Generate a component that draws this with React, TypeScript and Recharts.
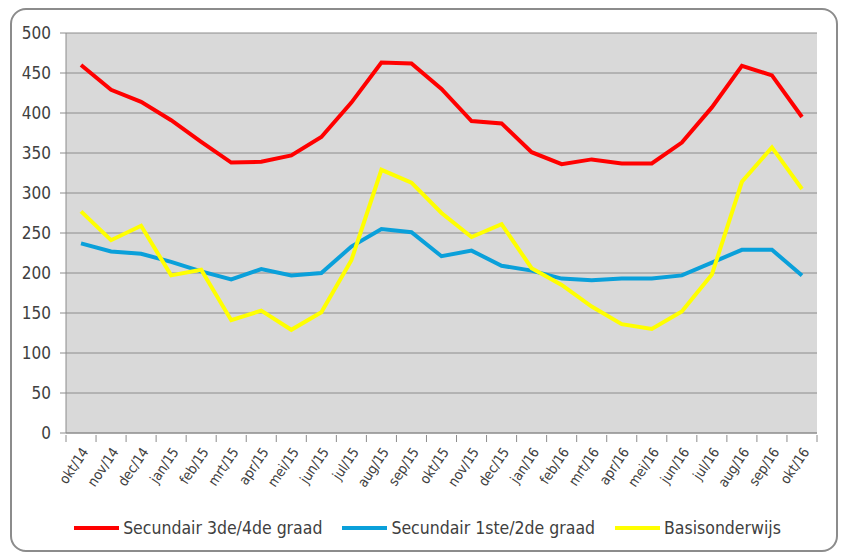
import React from 'react';
import { LineChart, Line, XAxis, YAxis, CartesianGrid, Legend } from 'recharts';

const months = ['okt/14', 'nov/14', 'dec/14', 'jan/15', 'feb/15', 'mrt/15', 'apr/15', 'mei/15', 'jun/15', 'jul/15', 'aug/15', 'sep/15', 'okt/15', 'nov/15', 'dec/15', 'jan/16', 'feb/16', 'mrt/16', 'apr/16', 'mei/16', 'jun/16', 'jul/16', 'aug/16', 'sep/16', 'okt/16'];
const secundair34 = [460, 429, 414, 391, 364, 338, 339, 347, 370, 413, 463, 462, 430, 390, 387, 351, 336, 342, 337, 337, 363, 407, 459, 447, 395];
const secundair12 = [237, 227, 224, 214, 202, 192, 205, 197, 200, 233, 255, 251, 221, 228, 209, 203, 193, 191, 193, 193, 197, 213, 229, 229, 197];
const basis = [277, 241, 259, 197, 204, 141, 153, 129, 151, 216, 329, 313, 275, 245, 261, 206, 185, 158, 136, 130, 152, 198, 314, 357, 305];
const yTicks = [0, 50, 100, 150, 200, 250, 300, 350, 400, 450, 500];

const seriesNames = ['Secundair 3de/4de graad', 'Secundair 1ste/2de graad', 'Basisonderwijs'];
const seriesColors = ['#ff0000', '#0aa0da', '#ffff00'];
const seriesKeys = ['s34', 's12', 'basis'];

const data = months.map((m, i) => ({ idx: i, month: m, s34: secundair34[i], s12: secundair12[i], basis: basis[i] }));
const xTicks: number[] = [];
for (let i = 0; i < months.length; i++) {
  xTicks.push(i - 0.5);
  xTicks.push(i);
}
xTicks.push(months.length - 0.5);

const FONT = '"DejaVu Sans Condensed", "Liberation Sans Narrow", Arial, sans-serif';
const TEXT = '#404040';
const GRID = '#8c8c8c';

const XTick = (props: any) => {
  const { x, y, payload } = props;
  const v = payload.value;
  if (Number.isInteger(v)) {
    return (
      <g transform={`translate(${x + 4},${y + 14})`}>
        <text transform="rotate(-56)" textAnchor="end" dy="0.35em" fontSize={14} fill={TEXT} fontFamily={FONT}>
          {months[v]}
        </text>
      </g>
    );
  }
  return <line x1={x} y1={y} x2={x} y2={y + 7} stroke={GRID} strokeWidth={1} />;
};

const LegendContent = () => (
  <div style={{ display: 'flex', justifyContent: 'center', alignItems: 'center', height: 20, paddingLeft: 38, fontFamily: FONT, fontSize: 17.5, color: TEXT }}>
    {seriesNames.map((n, i) => (
      <div key={n} style={{ display: 'flex', alignItems: 'center', marginRight: i < seriesNames.length - 1 ? 20 : 0 }}>
        <svg width={45} height={6} style={{ marginRight: 4 }}>
          <line x1={0} y1={3} x2={45} y2={3} stroke={seriesColors[i]} strokeWidth={4} />
        </svg>
        <span>{n}</span>
      </div>
    ))}
  </div>
);

export default function App() {
  return (
    <div style={{ position: 'absolute', left: 0, top: 0, width: 848, height: 552, background: '#ffffff', overflow: 'hidden' }}>
      <div style={{ position: 'absolute', left: 10, top: 8, width: 824, height: 540, border: '2px solid #8c8c8c', borderRadius: 16 }} />
      <div style={{ position: 'absolute', left: 0, top: 0 }}>
        <LineChart width={848} height={552} data={data} margin={{ top: 33, right: 31, bottom: 14, left: 0 }}>
          <CartesianGrid vertical={false} stroke={GRID} fill="#d9d9d9" strokeWidth={1} />
          <XAxis
            dataKey="idx"
            type="number"
            domain={[-0.5, months.length - 0.5]}
            ticks={xTicks}
            interval={0}
            tickSize={0}
            tickLine={false}
            tick={<XTick />}
            axisLine={{ stroke: GRID }}
            height={85}
          />
          <YAxis
            domain={[0, 500]}
            ticks={yTicks}
            interval={0}
            width={66}
            tickSize={6}
            tickMargin={9}
            tickLine={{ stroke: GRID }}
            axisLine={{ stroke: GRID }}
            tick={{ fontSize: 17, fill: TEXT, fontFamily: FONT }}
          />
          <Legend verticalAlign="bottom" content={<LegendContent />} />
          {seriesKeys.map((k, i) => (
            <Line key={k} type="linear" dataKey={k} name={seriesNames[i]} stroke={seriesColors[i]} strokeWidth={4} dot={false} isAnimationActive={false} />
          ))}
        </LineChart>
      </div>
    </div>
  );
}
